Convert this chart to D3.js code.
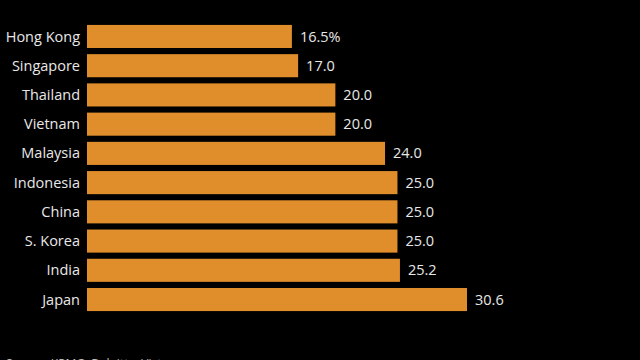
<!DOCTYPE html>
<html>
<head>
<meta charset="utf-8">
<script src="https://cdn.jsdelivr.net/npm/d3@7"></script>
<style>
  body { margin: 0; background: #000; }
  svg { display: block; font-family: "Open Sans", sans-serif; }
</style>
</head>
<body>
<script>
// corporate tax rates, percent
const countries = ['Hong Kong', 'Singapore', 'Thailand', 'Vietnam', 'Malaysia', 'Indonesia', 'China', 'S. Korea', 'India', 'Japan'];
const rates = [16.5, 17.0, 20.0, 20.0, 24.0, 25.0, 25.0, 25.0, 25.2, 30.6];
const valueLabels = ['16.5%', '17.0', '20.0', '20.0', '24.0', '25.0', '25.0', '25.0', '25.2', '30.6'];

const width = 640, height = 360;
const margin = { top: 22, left: 87 };

const svg = d3.select('body').append('svg')
  .attr('width', width)
  .attr('height', height);

const x = d3.scaleLinear()
  .domain([0, 30.6])
  .range([margin.left, 467]);

const y = d3.scaleBand()
  .domain(countries)
  .range([margin.top, margin.top + 292])
  .paddingInner(0.21)
  .paddingOuter(0.1);

const rows = svg.selectAll('g.row')
  .data(countries.map((c, i) => ({ c: c, v: rates[i], lbl: valueLabels[i] })))
  .enter().append('g')
  .attr('class', 'row');

rows.append('rect')
  .attr('x', x(0))
  .attr('y', d => y(d.c))
  .attr('width', d => x(d.v) - x(0))
  .attr('height', y.bandwidth())
  .attr('fill', '#e08e2c');

// country names on the left
rows.append('text')
  .attr('x', x(0) - 7)
  .attr('y', d => y(d.c) + y.bandwidth() / 2)
  .attr('dy', '0.35em')
  .attr('text-anchor', 'end')
  .attr('fill', '#e8e8e8')
  .style('font-size', '14.5px')
  .text(d => d.c);

// value at the end of bar
rows.append('text')
  .attr('x', d => x(d.v) + 8)
  .attr('y', d => y(d.c) + y.bandwidth() / 2)
  .attr('dy', '0.35em')
  .attr('fill', '#e8e8e8')
  .style('font-size', '14.5px')
  .text(d => d.lbl);

// source line, mostly cut off at the bottom (as in the original)
svg.append('text')
  .attr('x', 6)
  .attr('y', 368)
  .attr('fill', '#bbbbbb')
  .style('font-size', '12px')
  .text('Source: KPMG, Deloitte, Vistra');
</script>
</body>
</html>
